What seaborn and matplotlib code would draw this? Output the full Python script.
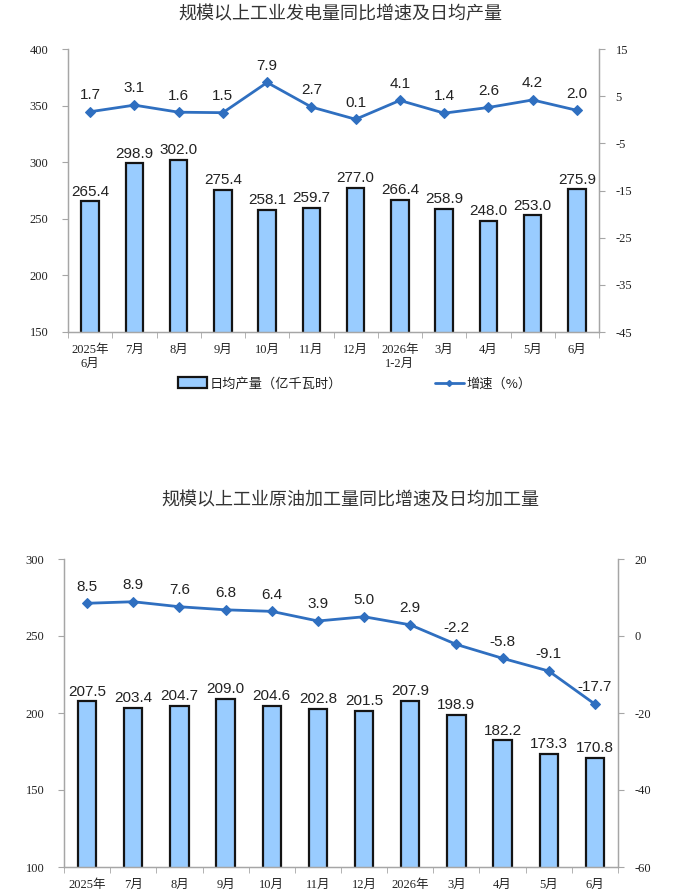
import numpy as np
import pandas as pd
import matplotlib
matplotlib.use("Agg")
import matplotlib.pyplot as plt
import seaborn as sns
from matplotlib.patches import Patch
from matplotlib.lines import Line2D

# data
power_months = ["2025年\n6月", "7月", "8月", "9月", "10月", "11月", "12月",
                "2026年\n1-2月", "3月", "4月", "5月", "6月"]
crude_months = ["2025年", "7月", "8月", "9月", "10月", "11月", "12月",
                "2026年", "3月", "4月", "5月", "6月"]
power_daily = [265.4, 298.9, 302.0, 275.4, 258.1, 259.7, 277.0, 266.4, 258.9, 248.0, 253.0, 275.9]
power_growth = [1.7, 3.1, 1.6, 1.5, 7.9, 2.7, 0.1, 4.1, 1.4, 2.6, 4.2, 2.0]
crude_daily = [207.5, 203.4, 204.7, 209.0, 204.6, 202.8, 201.5, 207.9, 198.9, 182.2, 173.3, 170.8]
crude_growth = [8.5, 8.9, 7.6, 6.8, 6.4, 3.9, 5.0, 2.9, -2.2, -5.8, -9.1, -17.7]

power_left_ticks = [150, 200, 250, 300, 350, 400]
power_right_ticks = [-45, -35, -25, -15, -5, 5, 15]
crude_left_ticks = [100, 150, 200, 250, 300]
crude_right_ticks = [-60, -40, -20, 0, 20]

sns.set_style("white")
plt.rcParams['font.family'] = ['Liberation Sans', 'Noto Sans CJK SC']
plt.rcParams['axes.unicode_minus'] = False

BAR_C = "#99CCFF"
LINE_C = "#2F6FC0"
GRID_C = "#A6A6A6"
TXT_C = "#222222"
serif = ['Liberation Serif', 'Noto Sans CJK SC']

fig = plt.figure(figsize=(6.99, 8.91), dpi=100)


def draw_panel(rect, months, daily, growth, lticks, rticks, title, tx, ty):
    ax = fig.add_axes(rect)
    df = pd.DataFrame({"month": months, "daily": daily, "growth": growth,
                       "pos": np.arange(len(months))})
    sns.barplot(data=df, x="month", y="daily", ax=ax, color=BAR_C, width=0.4,
                edgecolor="#141414", linewidth=1.6, saturation=1)
    ax.set_ylim(lticks[0], lticks[-1])
    ax.set_yticks(lticks)
    ax.set_xlim(-0.5, len(months) - 0.5)
    ax.bar_label(ax.containers[0], fmt="%.1f", padding=2, fontsize=11, color=TXT_C)
    ax.set_xlabel("")
    ax.set_ylabel("")

    ax2 = ax.twinx()
    sns.lineplot(data=df, x="pos", y="growth", ax=ax2, color=LINE_C, linewidth=2,
                 marker="D", markersize=5, markeredgecolor=LINE_C)
    ax2.set_ylim(rticks[0], rticks[-1])
    ax2.set_yticks(rticks)
    ax2.set_xlim(-0.5, len(months) - 0.5)
    ax2.set_xlabel("")
    ax2.set_ylabel("")
    for i, g in enumerate(growth):
        ax2.annotate(f"{g:.1f}", (i, g), xytext=(0, 12), textcoords="offset points",
                     ha="center", va="center", fontsize=11, color=TXT_C)

    for a in (ax, ax2):
        a.spines["top"].set_visible(False)
        for s in ("left", "right", "bottom"):
            a.spines[s].set_color(GRID_C)
            a.spines[s].set_linewidth(0.9)
    ax.tick_params(axis="y", left=True, length=4, color=GRID_C, labelsize=9,
                   labelcolor=TXT_C, pad=10)
    ax2.tick_params(axis="y", right=True, length=4, color=GRID_C, labelsize=9,
                    labelcolor=TXT_C, pad=8)
    ax.tick_params(axis="x", bottom=False, labelsize=9, labelcolor=TXT_C, pad=5)
    for lab in ax.get_xticklabels() + ax.get_yticklabels() + ax2.get_yticklabels():
        lab.set_family(serif)
    # small tick marks at category boundaries
    ax.set_xticks(np.arange(-0.5, len(months), 1), minor=True)
    ax.tick_params(axis="x", which="minor", bottom=True, length=4, color=GRID_C)
    ax2.tick_params(axis="x", bottom=False, labelbottom=False)

    fig.text(tx, ty, title, ha="center", va="center", fontsize=13, color="#333333",
             family=['Noto Sans CJK SC'])
    return ax


W, H = 699, 891
draw_panel([68 / W, 1 - 332 / H, (599 - 68) / W, (332 - 49) / H], power_months,
           power_daily, power_growth, power_left_ticks, power_right_ticks,
           "规模以上工业发电量同比增速及日均产量", 340 / W, 1 - 14 / H)
draw_panel([64 / W, 1 - 867 / H, (618 - 64) / W, (867 - 559) / H], crude_months,
           crude_daily, crude_growth, crude_left_ticks, crude_right_ticks,
           "规模以上工业原油加工量同比增速及日均加工量", 350 / W, 1 - 500 / H)

handles = [Patch(facecolor=BAR_C, edgecolor="#141414", linewidth=1.6),
           Line2D([0], [0], color=LINE_C, linewidth=2, marker="D", markersize=3)]
fig.legend(handles, ["日均产量（亿千瓦时）", "增速（%）"], loc="center",
           bbox_to_anchor=(355 / W, 1 - 384 / H), ncol=2, frameon=False,
           prop={"family": "Noto Sans CJK SC", "size": 9.5}, columnspacing=7,
           handlelength=2.2, handleheight=0.9, handletextpad=0.2, labelcolor=TXT_C)

fig.savefig("out.png", dpi=100)
